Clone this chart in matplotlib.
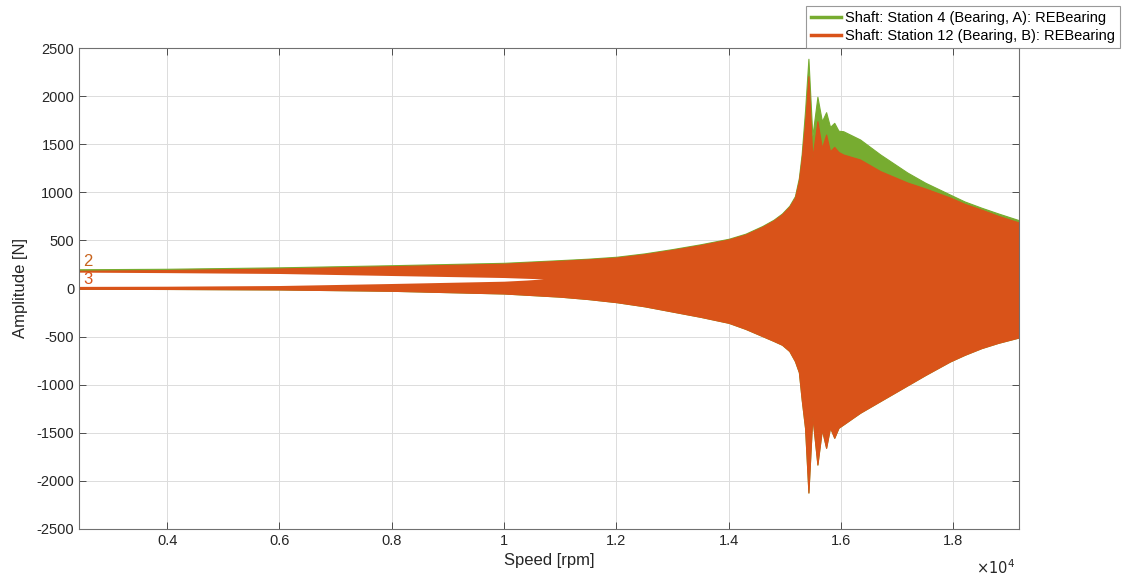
import matplotlib
matplotlib.use("Agg")
from matplotlib import pyplot as plt
from matplotlib.lines import Line2D

# Envelope of the two bearing force traces
speed = [2430, 4000, 6000, 8000, 10000, 11000, 11500, 12000, 12500, 13000,
         13500, 14000, 14300, 14600, 14800, 14950, 15080, 15180, 15250, 15300,
         15360, 15420, 15490, 15580, 15660, 15735, 15805, 15880, 15955, 16040,
         16340, 16700, 17180, 17500, 17940, 18200, 18500, 18800, 19170]

# Station 4 (green) upper envelope
green_top = [200, 205, 220, 242, 267, 295, 310, 330, 365, 410,
             460, 517, 570, 650, 715, 780, 860, 960, 1150, 1400,
             1850, 2388, 1583, 1993, 1739, 1833, 1680, 1722, 1640, 1635,
             1549, 1393, 1206, 1100, 977, 905, 840, 780, 710]

# Station 12 (orange) upper and lower envelope
orange_top = [185, 192, 208, 232, 258, 288, 303, 322, 357, 402,
              452, 510, 562, 642, 707, 772, 850, 945, 1120, 1350,
              1720, 2207, 1358, 1739, 1462, 1600, 1427, 1472, 1420, 1393,
              1341, 1220, 1102, 1040, 946, 880, 820, 755, 686]
orange_bottom = [-3, -5, -10, -24, -52, -85, -110, -142, -185, -240,
                 -295, -357, -420, -495, -545, -585, -650, -755, -870, -1154,
                 -1450, -2121, -1327, -1830, -1466, -1656, -1445, -1552, -1448, -1414,
                 -1292, -1170, -1008, -900, -759, -690, -620, -565, -509]

# White gap inside the orange band at low speed
speed_gap = [2430, 4000, 6000, 8000, 10000, 10400, 10700]
gap_top = [170, 165, 156, 135, 114, 106, 100]
gap_bottom = [22, 24, 31, 52, 76, 88, 100]

x_ticks = [4000, 6000, 8000, 10000, 12000, 14000, 16000, 18000]
x_tick_labels = ["0.4", "0.6", "0.8", "1", "1.2", "1.4", "1.6", "1.8"]
y_ticks = list(range(-2500, 2501, 500))

series_names = ["Shaft: Station 4 (Bearing, A): REBearing",
                "Shaft: Station 12 (Bearing, B): REBearing"]

green = "#77AC30"
orange = "#D95319"

plt.rcParams["font.family"] = ["Liberation Sans", "DejaVu Sans"]
plt.rcParams["axes.unicode_minus"] = False

fig = plt.figure(figsize=(11.23, 5.77), dpi=100)
ax = fig.add_axes([79 / 1123, 1 - 529 / 577, 940 / 1123, 481 / 577])

ax.fill_between(speed, green_top, orange_bottom, color=green, linewidth=0.8, edgecolor=green)
ax.fill_between(speed, orange_top, orange_bottom, color=orange, linewidth=0.8, edgecolor=orange)
ax.fill_between(speed_gap, gap_bottom, gap_top, color="white", linewidth=0)

# Data tip labels
ax.text(2590, 280, "2", color="#C8641E", fontsize=12, ha="center", va="center")
ax.text(2590, 95, "3", color=orange, fontsize=12, ha="center", va="center")

ax.set_xlim(2430, 19170)
ax.set_ylim(-2500, 2500)
ax.set_xticks(x_ticks)
ax.set_xticklabels(x_tick_labels)
ax.set_yticks(y_ticks)

ax.grid(True, color="#DCDCDC", linewidth=0.7)
ax.set_axisbelow(True)
ax.tick_params(direction="in", top=True, right=True, length=5, width=0.7,
               colors="#4D4D4D", labelcolor="#262626", labelsize=10.5)
for s in ax.spines.values():
    s.set_color("#707070")
    s.set_linewidth(0.8)

ax.set_xlabel("Speed [rpm]", fontsize=12, color="#262626", labelpad=4)
ax.set_ylabel("Amplitude [N]", fontsize=12, color="#262626", labelpad=6)
fig.text(995 / 1123, 1 - 568 / 577, r"$\times10^4$", fontsize=10.5, color="#262626",
         ha="center", va="center")

handles = [Line2D([0], [0], color=green, linewidth=2.5),
           Line2D([0], [0], color=orange, linewidth=2.5)]
leg = fig.legend(handles, series_names, loc="upper right",
                 bbox_to_anchor=(1120 / 1123, 1 - 6 / 577), fontsize=10.5,
                 frameon=True, fancybox=False, handlelength=2.0,
                 handletextpad=0.3, borderpad=0.35, labelspacing=0.25,
                 borderaxespad=0)
leg.get_frame().set_edgecolor("#808080")
leg.get_frame().set_linewidth(0.8)

fig.savefig("out.png", dpi=100)
